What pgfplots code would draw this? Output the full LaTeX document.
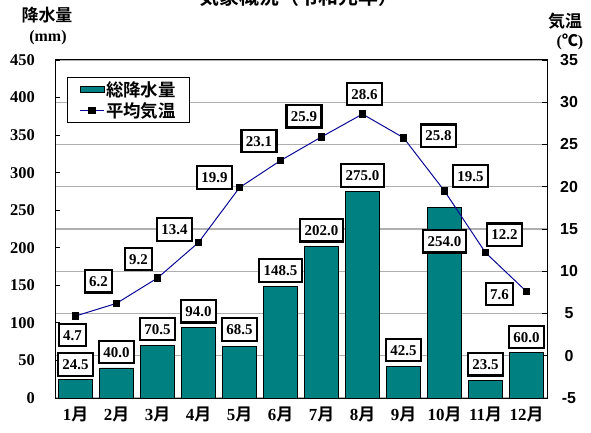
\documentclass[border=0pt]{standalone}
\usepackage{fontspec}
\setmainfont{Liberation Serif}
\newfontfamily\jp{Noto Sans CJK JP Bold}
\newfontfamily\lsans{Liberation Sans}
\usepackage{pgfplots}
\pgfplotsset{compat=1.18}
\usepackage{pgfplotstable}

\definecolor{barcol}{RGB}{0,128,128}
\definecolor{linecol}{RGB}{10,10,150}
\definecolor{gridcol}{RGB}{175,175,175}

\pgfplotstableread{
x rain dy
1 24.5 15
2 40.0 16
3 70.5 16
4 94.0 16
5 68.5 17
6 148.5 16
7 202.0 16
8 275.0 16
9 42.5 16
10 254.0 -34
11 23.5 16
12 60.0 16
}\raintable

\pgfplotstableread{
x temp dx dy
1 4.7 -3 -19
2 6.2 -18 22
3 9.2 -19 19
4 13.4 -24 13
5 19.9 -25 10
6 23.1 -21.5 19.5
7 25.9 -17.5 20.5
8 28.6 2 20
9 25.8 35 2
10 19.5 26 15
11 12.2 19 18
12 7.6 -27 -2.5
}\temptable

\newcommand{\mon}[1]{{\bfseries #1}{\jp 月}}

\tikzset{
  lbl/.style={draw=black, text=black, line width=2.3bp, fill=white,
    font=\bfseries\fontsize{15}{15}\selectfont,
    inner xsep=4.5bp, inner ysep=6bp, text height=10.5bp, text depth=0bp, anchor=center},
}
\pgfplotsset{
  base/.style={scale only axis, width=492bp, height=338bp, xmin=0.5, xmax=12.5},
  linelegend/.style={legend image code/.code={\draw[mark repeat=2, mark phase=2, ##1] plot coordinates {(0bp,0bp) (12bp,0bp) (24bp,0bp)};}},
}

\begin{document}
\begin{tikzpicture}
% grid and right axis (temperature scale)
\begin{axis}[base, ymin=-5, ymax=35, ytick={-5,0,...,35},
  axis y line*=right, axis x line=none,
  ymajorgrids, grid style={gridcol, line width=1.2bp},
  major tick length=5bp, tick style={black, line width=0.8bp},
  axis line style={line width=1bp},
  yticklabel style={font=\lsans\bfseries\fontsize{16}{16}\selectfont, anchor=center, inner sep=0pt, xshift=22bp},
  /pgf/number format/assume math mode=true]
\end{axis}
% bars (precipitation)
\begin{axis}[base, name=main, ymin=0, ymax=450, ytick={0,50,...,450}, ytick pos=left,
  xtick={1,...,12},
  xticklabels={\mon{1},\mon{2},\mon{3},\mon{4},\mon{5},\mon{6},\mon{7},\mon{8},\mon{9},\mon{10},\mon{11},\mon{12}},
  xtick style={draw=none},
  major tick length=5bp, ytick style={black, line width=0.8bp},
  axis line style={line width=1bp},
  yticklabel style={font=\bfseries\fontsize{16.5}{16.5}\selectfont, anchor=east, inner sep=0pt, xshift=-20bp},
  xticklabel style={font=\fontsize{17}{17}\selectfont, anchor=center, inner sep=0pt, yshift=-16bp},
  /pgf/number format/assume math mode=true]
\addplot[ybar, bar width=34bp, bar shift=0pt, fill=barcol, draw=black, line width=0.9bp,
  nodes near coords={\pgfmathprintnumber[fixed,fixed zerofill,precision=1,assume math mode=true]{\pgfplotspointmeta}},
  nodes near coords align=center,
  point meta=y,
  visualization depends on={\thisrow{dy} \as \dy},
  nodes near coords style={lbl, yshift=\dy bp}]
  table[x=x, y=rain] {\raintable};
\end{axis}
% line (temperature)
\begin{axis}[base, ymin=-5, ymax=35, hide axis, linelegend,
  legend style={at={(0.0244,0.9497)}, anchor=north west, draw=black, line width=1bp,
    font=\jp\fontsize{17.5}{18}\selectfont, inner xsep=12bp, inner ysep=2.5bp, row sep=1.5bp,
    nodes={inner sep=1.5bp}},
  legend cell align=left]
\addlegendimage{legend image code/.code={\draw[fill=barcol, draw=black, line width=0.9bp] (0bp,-3bp) rectangle (24bp,3bp);}}
\addlegendentry{総降水量}
\addplot[linecol, line width=1bp, mark=square*, mark size=3.3bp, mark options={fill=black, draw=black},
  nodes near coords={\pgfmathprintnumber[fixed,fixed zerofill,precision=1,assume math mode=true]{\pgfplotspointmeta}},
  nodes near coords align=center,
  point meta=y,
  visualization depends on={\thisrow{dx} \as \dx},
  visualization depends on={\thisrow{dy} \as \dy},
  nodes near coords style={lbl, xshift=\dx bp, yshift=\dy bp}]
  table[x=x, y=temp] {\temptable};
\addlegendentry{平均気温}
\end{axis}
% axis titles
\node[font=\jp\fontsize{17}{17}\selectfont, anchor=center] at ([xshift=-8bp, yshift=45bp]main.north west) {降水量};
\node[font=\bfseries\fontsize{16}{16}\selectfont, anchor=center] at ([xshift=-7bp, yshift=22bp]main.north west) {(mm)};
\node[font=\jp\fontsize{17}{17}\selectfont, anchor=center] at ([xshift=18bp, yshift=39bp]main.north east) {気温};
\node[font=\bfseries\fontsize{16}{16}\selectfont, anchor=center] at ([xshift=23bp, yshift=18bp]main.north east) {({\jp ℃})};
\node[font=\jp\fontsize{20}{20}\selectfont, anchor=base] at ([xshift=-2bp, yshift=55bp]main.north) {気象概況（令和元年）};
\pgfresetboundingbox
\useasboundingbox ([xshift=-55bp, yshift=-35bp]main.south west) rectangle ([xshift=44bp, yshift=60bp]main.north east);
\end{tikzpicture}
\end{document}
